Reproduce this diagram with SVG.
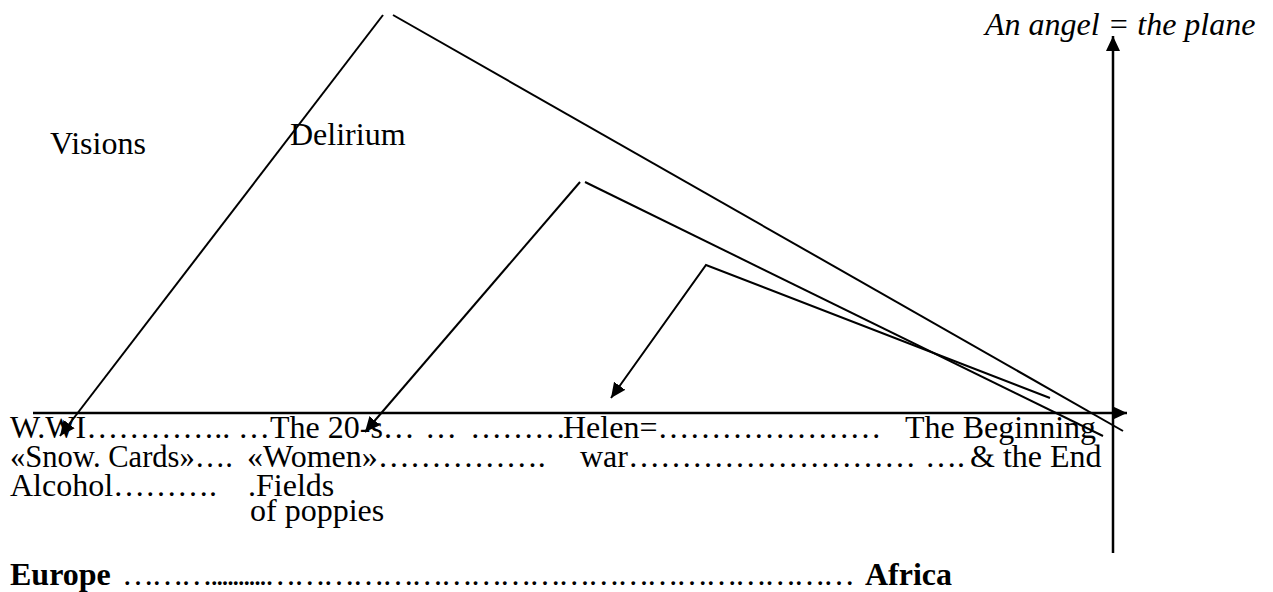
<svg xmlns="http://www.w3.org/2000/svg" width="1273" height="592" viewBox="0 0 1273 592">
<style>
text{font-family:'Liberation Serif','DejaVu Serif',serif;font-size:32px;fill:#000}
.b{font-weight:bold}
.i{font-style:italic}
.ln{stroke:#000;stroke-width:2;fill:none}
.ax{stroke:#000;stroke-width:2.5;fill:none}
</style>
<defs>
<marker id="ah" markerUnits="userSpaceOnUse" markerWidth="16" markerHeight="14" refX="15" refY="7" orient="auto">
<path d="M0,0 L15,7 L0,14 z" fill="#000"/>
</marker>
</defs>
<g id="connectors">
<line class="ax" x1="33" y1="413" x2="1127" y2="413" marker-end="url(#ah)"/>
<line class="ax" x1="1113" y1="553" x2="1113" y2="36" marker-end="url(#ah)"/>
<line class="ln" x1="383" y1="15" x2="60" y2="436" marker-end="url(#ah)"/>
<line class="ln" x1="393" y1="15" x2="1123" y2="431"/>
<line class="ln" x1="580" y1="182" x2="365" y2="432" marker-end="url(#ah)"/>
<line class="ln" x1="585" y1="182" x2="1103" y2="436"/>
<polyline class="ln" points="1050,398 706,265 611,398" marker-end="url(#ah)"/>
</g>
<g id="angel"><text class="i" x="985" y="35">An angel = the plane</text></g>
<g id="visions"><text x="50" y="154">Visions</text></g>
<g id="delirium"><text x="290" y="145">Delirium</text></g>
<g id="row1">
<text y="438"><tspan x="10">W.WI…………..</tspan><tspan x="238">…The 20-s…</tspan><tspan x="425">…</tspan><tspan x="470">………</tspan><tspan x="563">Helen=…………………</tspan><tspan x="905">The Beginning</tspan></text>
</g>
<g id="row2">
<text x="10" y="467" textLength="223" lengthAdjust="spacingAndGlyphs">«Snow. Cards»….</text>
<text y="467"><tspan x="247">«Women»…………….</tspan><tspan x="580">war………………………</tspan><tspan x="925">….</tspan><tspan x="970">&amp; the End</tspan></text>
</g>
<g id="row3">
<text y="496"><tspan x="10">Alcohol……….</tspan><tspan x="248">.Fields</tspan></text>
<text x="250" y="521">of poppies</text>
</g>
<g id="row4">
<text class="b" x="10" y="585">Europe</text>
<text x="122" y="585" textLength="733" lengthAdjust="spacing">………..........……………………………………………………</text>
<text class="b" x="865" y="585">Africa</text>
</g>
</svg>
